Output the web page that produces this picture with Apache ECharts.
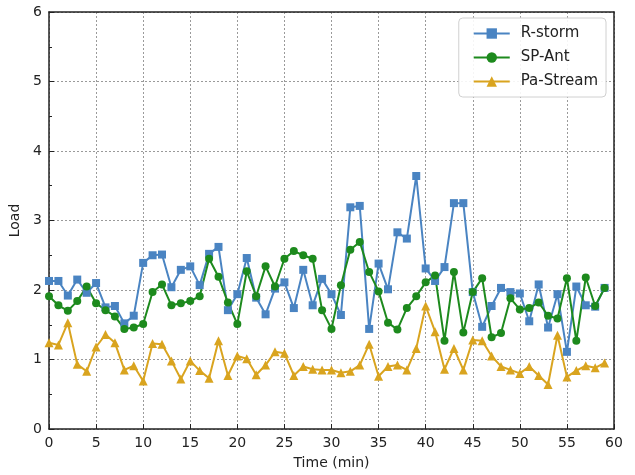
<!DOCTYPE html>
<html>
<head>
<meta charset="utf-8">
<script src="https://cdn.jsdelivr.net/npm/echarts@6/dist/echarts.min.js"></script>
<style>
  html, body { margin: 0; padding: 0; background: #fff; }
  #chart { width: 635px; height: 475px; }
</style>
</head>
<body>
<div id="chart"></div>
<script>
// Load per minute for three schedulers
const minutes = Array.from({ length: 60 }, (_, i) => i);

const rStorm = [
  2.13, 2.13, 1.92, 2.15, 1.96, 2.10, 1.75, 1.77, 1.52, 1.63,
  2.39, 2.50, 2.51, 2.04, 2.29, 2.34, 2.07, 2.52, 2.62, 1.71,
  1.94, 2.46, 1.89, 1.65, 2.02, 2.11, 1.74, 2.29, 1.78, 2.16,
  1.94, 1.64, 3.19, 3.21, 1.44, 2.38, 2.01, 2.83, 2.74, 3.64,
  2.31, 2.13, 2.33, 3.25, 3.25, 1.97, 1.47, 1.77, 2.03, 1.97,
  1.95, 1.55, 2.08, 1.46, 1.94, 1.11, 2.05, 1.78, 1.76, 2.03
];

const spAnt = [
  1.91, 1.78, 1.70, 1.84, 2.05, 1.81, 1.71, 1.62, 1.44, 1.46,
  1.51, 1.97, 2.08, 1.78, 1.81, 1.84, 1.91, 2.45, 2.19, 1.82,
  1.51, 2.27, 1.91, 2.34, 2.05, 2.45, 2.56, 2.50, 2.45, 1.71,
  1.44, 2.07, 2.58, 2.69, 2.26, 1.98, 1.53, 1.43, 1.74, 1.91,
  2.11, 2.21, 1.27, 2.26, 1.39, 1.97, 2.17, 1.32, 1.38, 1.88,
  1.72, 1.74, 1.82, 1.63, 1.59, 2.17, 1.27, 2.18, 1.77, 2.03
];

const paStream = [
  1.24, 1.21, 1.53, 0.93, 0.83, 1.18, 1.36, 1.24, 0.85, 0.91,
  0.69, 1.23, 1.22, 0.98, 0.72, 0.98, 0.84, 0.73, 1.27, 0.77,
  1.05, 1.01, 0.78, 0.92, 1.11, 1.09, 0.77, 0.90, 0.86, 0.85,
  0.85, 0.81, 0.83, 0.92, 1.22, 0.76, 0.90, 0.92, 0.85, 1.16,
  1.77, 1.40, 0.86, 1.16, 0.85, 1.28, 1.27, 1.05, 0.90, 0.85,
  0.80, 0.90, 0.77, 0.64, 1.35, 0.75, 0.84, 0.91, 0.88, 0.95
];

const xTicks = [0, 5, 10, 15, 20, 25, 30, 35, 40, 45, 50, 55, 60];
const yTicks = [0, 1, 2, 3, 4, 5, 6];

const seriesDefs = [
  { name: 'R-storm', values: rStorm, color: '#4a84c2', symbol: 'rect', size: 8 },
  { name: 'SP-Ant', values: spAnt, color: '#1d8a1d', symbol: 'circle', size: 8 },
  { name: 'Pa-Stream', values: paStream, color: '#d9a41f', symbol: 'triangle', size: 9 }
];

const font = 'DejaVu Sans';
const chart = echarts.init(document.getElementById('chart'), null, { renderer: 'canvas' });

const gridLine = { show: true, lineStyle: { color: '#9a9a9a', type: [2, 2], width: 1 } };

chart.setOption({
  animation: false,
  backgroundColor: '#fff',
  grid: { left: 49, right: 21, top: 12, bottom: 44, containLabel: false },
  legend: {
    orient: 'vertical',
    right: 29,
    top: 18,
    padding: [8, 8, 8, 14],
    itemWidth: 36,
    itemHeight: 13,
    itemGap: 9,
    borderColor: '#d0d0d0',
    borderWidth: 1,
    borderRadius: 4,
    backgroundColor: 'rgba(255,255,255,0.9)',
    textStyle: { fontFamily: font, fontSize: 15, color: '#222', padding: [0, 0, 0, 6] },
    data: seriesDefs.map(s => s.name)
  },
  xAxis: [{
    type: 'value',
    min: xTicks[0],
    max: xTicks[xTicks.length - 1],
    interval: 5,
    name: 'Time (min)',
    nameLocation: 'middle',
    nameGap: 27,
    nameTextStyle: { fontFamily: font, fontSize: 14, color: '#222' },
    axisLine: { show: true, onZero: false, lineStyle: { color: '#222', width: 1.5 } },
    axisTick: { show: true, inside: true, length: 5, lineStyle: { color: '#222' } },
    axisLabel: { fontFamily: font, fontSize: 14, color: '#222', margin: 7 },
    splitLine: gridLine
  }, {
    type: 'value',
    position: 'top',
    min: xTicks[0],
    max: xTicks[xTicks.length - 1],
    interval: 5,
    axisLine: { show: true, onZero: false, lineStyle: { color: '#222', width: 1.5 } },
    axisTick: { show: false },
    axisLabel: { show: false },
    splitLine: { show: false }
  }],
  yAxis: [{
    type: 'value',
    min: yTicks[0],
    max: yTicks[yTicks.length - 1],
    interval: 1,
    name: 'Load',
    nameLocation: 'middle',
    nameGap: 25,
    nameTextStyle: { fontFamily: font, fontSize: 14, color: '#222' },
    axisLine: { show: true, onZero: false, lineStyle: { color: '#222', width: 1.5 } },
    axisTick: { show: true, inside: true, length: 5, lineStyle: { color: '#222' } },
    minorTick: { show: true, splitNumber: 2, length: 3, lineStyle: { color: '#222' } },
    axisLabel: { fontFamily: font, fontSize: 14, color: '#222', margin: 7 },
    splitLine: gridLine
  }, {
    type: 'value',
    position: 'right',
    min: yTicks[0],
    max: yTicks[yTicks.length - 1],
    interval: 1,
    axisLine: { show: true, onZero: false, lineStyle: { color: '#222', width: 1.5 } },
    axisTick: { show: false },
    axisLabel: { show: false },
    splitLine: { show: false }
  }],
  series: seriesDefs.map(s => ({
    name: s.name,
    type: 'line',
    xAxisIndex: 0,
    yAxisIndex: 0,
    data: s.values.map((v, i) => [minutes[i], v]),
    symbol: s.symbol,
    symbolSize: s.size,
    showAllSymbol: true,
    color: s.color,
    lineStyle: { color: s.color, width: 2 },
    itemStyle: { color: s.color },
    emphasis: { disabled: true }
  }))
});
</script>
</body>
</html>
